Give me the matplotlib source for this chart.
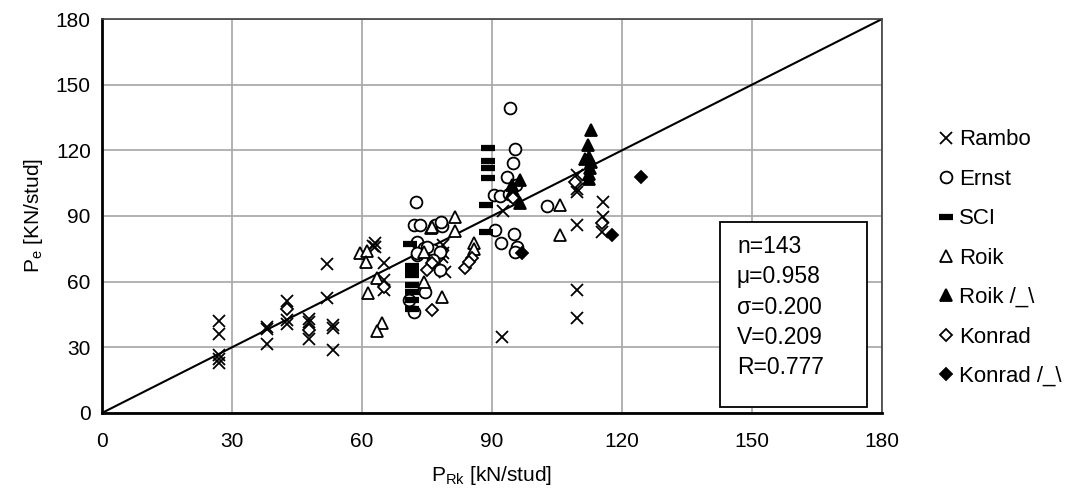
import matplotlib
matplotlib.use('Agg')
import matplotlib.pyplot as plt
from matplotlib.patches import Rectangle

plt.rcParams['font.family'] = ['Liberation Sans', 'DejaVu Sans']
plt.rcParams['mathtext.fontset'] = 'custom'
plt.rcParams['mathtext.rm'] = 'Liberation Sans'
plt.rcParams['mathtext.default'] = 'regular'

# data (x = P_Rk, y = P_e)
rambo_x = [27, 27, 27, 27, 27, 38, 38, 38, 42.7, 42.7, 42.7, 47.7, 47.7, 47.7,
           53.4, 53.4, 53.4, 51.9, 51.9, 63, 63, 62.5, 65, 65, 65,
           78.8, 78.8, 77.7, 79.2, 78.5, 92.5, 92.3,
           109.5, 109.5, 109.5, 109.5, 109.5, 109.5, 115.6, 115.6, 115.4]
rambo_y = [42, 36, 26.5, 24.5, 23, 39.5, 38.5, 31.5, 51, 42.5, 40.7, 43, 41.5, 34,
           40, 39, 29, 68, 52.5, 77.5, 76, 76.5, 68.4, 60.8, 56,
           76.7, 73, 68.4, 64.5, 71.4, 92.5, 34.5,
           108.7, 102.5, 101, 86, 56.2, 43.3, 96.5, 89.7, 82.8]

ernst_x = [94.2, 95.2, 94.8, 93.5, 90.4, 91.9, 90.8, 95, 92.1, 95.8, 95.4, 102.8,
           72.5, 71.9, 73.5, 76.9, 78.5, 72.7, 74.2, 76.5, 78.1, 72.7, 76.5,
           74.2, 70.8, 71.9, 78.3, 95.5, 94, 75, 72.7, 78.1, 74.6]
ernst_y = [139.2, 120.6, 114.3, 107.7, 99.6, 99.1, 83.6, 81.8, 77.5, 76, 73.7, 94.6,
           96.3, 85.9, 85.9, 85.9, 85.6, 78.3, 75.2, 74.5, 73.7, 72.2, 69.9,
           56.2, 51.6, 46.3, 87.4, 104, 100, 76, 73, 65.3, 55.4]

sci_x = [89, 89, 89, 89, 88.7, 88.7, 71, 71.5, 71.5, 71.5, 71.5, 71.5, 71.5, 71.5]
sci_y = [120.9, 115.1, 111.7, 107.5, 95, 82.8, 77.2, 67, 65, 63, 58.5, 55.4, 51.6, 47.4]

roik_x = [81.5, 81.5, 75.9, 85.8, 85.8, 74.2, 74.2, 78.5, 64.6, 63.5, 105.8, 105.8,
          59.5, 61.1, 60.9, 63.5, 61.4, 76.2]
roik_y = [89.7, 83, 84.4, 77.5, 75, 73.7, 60, 53.1, 41, 37.6, 95, 81.3,
          73.2, 74.1, 69.1, 61.5, 55, 85.1]

roik2_x = [94.6, 94.6, 96.5, 96.5, 95.5, 112.8, 112.1, 112.3, 112.8, 112.5, 112.3, 112.3, 111.5]
roik2_y = [104, 101, 106.4, 96, 99, 129.3, 122.4, 117, 114.8, 111.7, 109, 107, 116]

konrad_x = [94.8, 109.2, 115.4, 83.8, 85.4, 84.6, 76.2, 75, 76.2, 65, 42.7, 47.7]
konrad_y = [98.1, 105.7, 86.7, 66.1, 70.7, 69, 68.4, 65.3, 47, 57.7, 47.5, 38]

konrad2_x = [96.9, 117.8, 124.4]
konrad2_y = [73.2, 81.3, 108]

stats = ['n=143', '\u03bc=0.958', '\u03c3=0.200', 'V=0.209', 'R=0.777']

fig = plt.figure(figsize=(10.72, 4.95), dpi=100)
ax = fig.add_axes([0.0951, 0.1657, 0.7277, 0.7959])

ax.plot([0, 180], [0, 180], color='black', lw=1.5, zorder=2)

mk = dict(linestyle='none', color='black', zorder=3)
ax.plot(rambo_x, rambo_y, marker='x', ms=9, mew=1.3, label='Rambo', **mk)
ax.plot(ernst_x, ernst_y, marker='o', ms=8.5, mew=1.3, mfc='white', label='Ernst', **mk)
ax.plot(sci_x, sci_y, marker='_', ms=10, mew=4.5, label='SCI', **mk)
ax.plot(roik_x, roik_y, marker='^', ms=9, mew=1.3, mfc='white', label='Roik', **mk)
ax.plot(roik2_x, roik2_y, marker='^', ms=9, mew=1.3, label='Roik /_\\', **mk)
ax.plot(konrad_x, konrad_y, marker='D', ms=6.5, mew=1.3, mfc='white', label='Konrad', **mk)
ax.plot(konrad2_x, konrad2_y, marker='D', ms=6.5, mew=1.3, label='Konrad /_\\', **mk)

ax.set_xlim(0, 180)
ax.set_ylim(0, 180)
ax.set_xticks(range(0, 181, 30))
ax.set_yticks(range(0, 181, 30))
ax.grid(True, color='#a6a6a6', lw=1.2, zorder=0)
ax.set_axisbelow(True)
ax.tick_params(length=0, labelsize=15)
ax.tick_params(axis='x', pad=14)
ax.tick_params(axis='y', pad=8)
for s in ['left', 'bottom']:
    ax.spines[s].set_linewidth(2)
for s in ['top', 'right']:
    ax.spines[s].set_linewidth(1.2)
    ax.spines[s].set_color('#404040')

ax.set_xlabel('P$_{Rk}$ [kN/stud]', fontsize=15, labelpad=9)
ax.set_ylabel('P$_e$ [KN/stud]', fontsize=15, labelpad=8)

# stats box
ax.add_patch(Rectangle((0.792, 0.015), 0.189, 0.469, transform=ax.transAxes,
                       facecolor='white', edgecolor='black', lw=1.3, zorder=5))
for i, s in enumerate(stats):
    ax.text(0.814, 0.422 - i * 0.0765, s, transform=ax.transAxes, fontsize=16.5,
            va='center', ha='left', zorder=6)

fig.legend(loc='upper left', bbox_to_anchor=(0.858, 0.779), frameon=False,
           fontsize=16, handlelength=0.6, handletextpad=0.25, labelspacing=0.83,
           markerscale=1.0)

fig.savefig('out.png', dpi=100)
